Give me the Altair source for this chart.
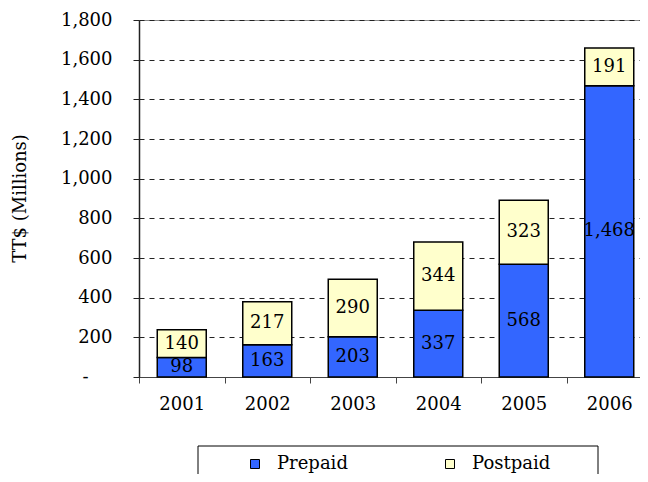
import altair as alt
import pandas as pd

years = ["2001", "2002", "2003", "2004", "2005", "2006"]
prepaid = [98, 163, 203, 337, 568, 1468]
postpaid = [140, 217, 290, 344, 323, 191]
series = ["Prepaid", "Postpaid"]
colors = ["#3366FF", "#FFFFCC"]

rows = []
for y, p, q in zip(years, prepaid, postpaid):
    rows.append({"year": y, "type": "Prepaid", "value": p, "ord": 0, "mid": p / 2})
    rows.append({"year": y, "type": "Postpaid", "value": q, "ord": 1, "mid": p + q / 2})
df = pd.DataFrame(rows)

FONT = "DejaVu Serif"

xaxis = alt.Axis(labelAngle=0, tickBand="extent", tickSize=6, labelPadding=12,
                 labelFont=FONT, labelFontSize=18, labelColor="black",
                 domainColor="#444", tickColor="#444", grid=False, title=None)
yaxis = alt.Axis(values=list(range(0, 1801, 200)), labelOverlap=False,
                 labelExpr="datum.value == 0 ? '-' : format(datum.value, ',')",
                 labelFont=FONT, labelFontSize=18, labelColor="black",
                 labelPadding={"condition": {"test": "datum.value == 0", "value": 45}, "value": 21},
                 tickSize=6, tickColor="#222", domainColor="#222", domainWidth=1.5,
                 grid=True, gridDash=[5, 5], gridColor="#222", gridWidth=1,
                 title="TT$ (Millions)", titleFont=FONT, titleFontSize=18,
                 titleFontWeight="normal", titleColor="black",
                 titleX=-119, titleY=178, titleAngle=270,
                 titleAlign="center", titleBaseline="middle")
xscale = alt.Scale(paddingInner=0, paddingOuter=0)
yscale = alt.Scale(domain=[0, 1800], nice=False)

bars = alt.Chart(df).mark_bar(size=49, stroke="black", strokeWidth=1.5).encode(
    x=alt.X("year:N", sort=years, scale=xscale, axis=xaxis),
    y=alt.Y("value:Q", stack="zero", scale=yscale, axis=yaxis),
    color=alt.Color("type:N", scale=alt.Scale(domain=series, range=colors),
                    legend=alt.Legend(title=None, orient="none", legendX=107, legendY=435,
                                      direction="horizontal", columns=2, columnPadding=93,
                                      symbolType="square", symbolSize=81,
                                      symbolStrokeColor="black", symbolStrokeWidth=1,
                                      labelFont=FONT, labelFontSize=18, labelColor="black",
                                      labelOffset=13, padding=0)),
    order=alt.Order("ord:Q"),
)

labels = alt.Chart(df).mark_text(font=FONT, fontSize=18, color="black", baseline="middle").encode(
    x=alt.X("year:N", sort=years, scale=xscale, axis=xaxis),
    y=alt.Y("mid:Q", scale=yscale, axis=yaxis),
    text=alt.Text("value:Q", format=","),
)

box = alt.Chart(pd.DataFrame({"a": [0]})).mark_rect(fill=None, stroke="black", strokeWidth=1).encode(
    x=alt.value(59), x2=alt.value(459), y=alt.value(426), y2=alt.value(490)
)

chart = alt.layer(bars, labels, box).properties(
    width=513, height=357,
    autosize=alt.AutoSizeParams(type="none"),
    padding={"left": 131, "top": 12, "right": -12, "bottom": 97},
).configure_view(stroke="#888", strokeWidth=1)

chart.save("out.html", embed_options={"renderer": "svg", "actions": False})
